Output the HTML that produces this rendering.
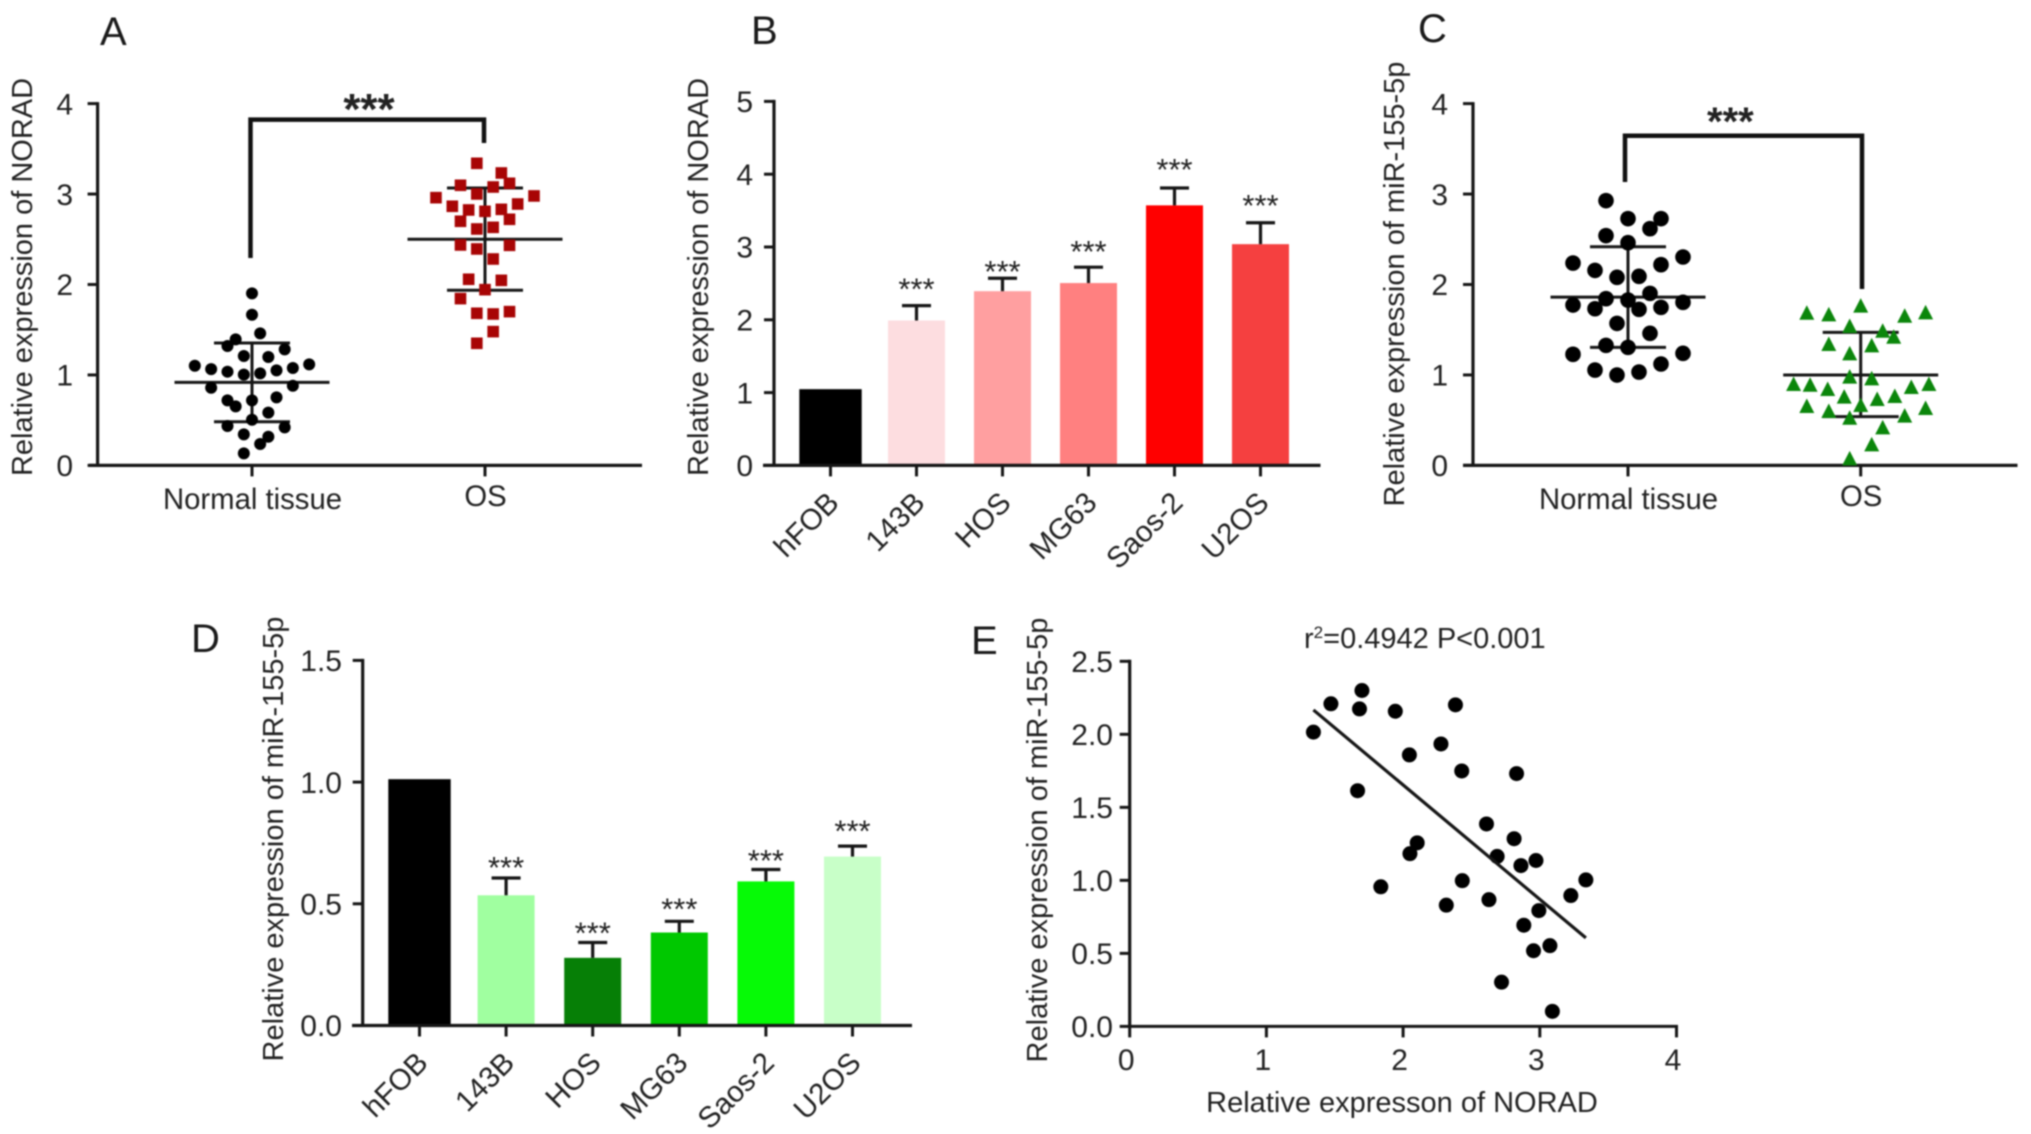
<!DOCTYPE html>
<html lang="en">
<head>
<meta charset="utf-8">
<title>NORAD and miR-155-5p expression</title>
<style>
html,body{margin:0;padding:0;background:#fff;}
svg{display:block;filter:blur(.7px);}
text{font-family:"Liberation Sans",sans-serif;fill:#222;}
.panel-letter{font-size:40px;fill:#1a1a1a;}
.axis-title{font-size:29px;text-anchor:middle;}
</style>
</head>
<body>
<svg id="figure" xmlns="http://www.w3.org/2000/svg" width="2031" height="1134" viewBox="0 0 2031 1134">
  <rect width="2031" height="1134" fill="#fff"/>

  <g id="panel-a">
    <text class="panel-letter" x="100" y="45">A</text>
    <text class="axis-title" transform="translate(32,277) rotate(-90)">Relative expression of NORAD</text>
    <path d="M250.5 258V119.6H484V143" fill="none" stroke="#111" stroke-width="4.5"/>
  </g>
  <g id="panel-b">
    <text class="panel-letter" x="751" y="44">B</text>
    <text class="axis-title" transform="translate(708,277) rotate(-90)">Relative expression of NORAD</text>
  </g>
  <g id="panel-c">
    <text class="panel-letter" x="1418" y="42">C</text>
    <text class="axis-title" transform="translate(1404,284) rotate(-90)">Relative expression of miR-155-5p</text>
    <path d="M1625 182V135.7H1862V289" fill="none" stroke="#111" stroke-width="4.5"/>
  </g>
  <g id="panel-d">
    <text class="panel-letter" x="191" y="652">D</text>
    <text class="axis-title" transform="translate(283,839) rotate(-90)">Relative expression of miR-155-5p</text>
  </g>
  <g id="panel-e">
    <text class="panel-letter" x="971" y="654">E</text>
    <text class="axis-title" transform="translate(1047,840) rotate(-90)">Relative expression of miR-155-5p</text>
    <text class="axis-title" x="1402" y="1112">Relative expresson of NORAD</text>
    <text x="1304" y="648" font-size="29">r<tspan font-size="17" dy="-10">2</tspan><tspan dy="10">=0.4942 P&lt;0.001</tspan></text>
  </g>
</svg>

<script>
// Panel A values
const aCategories = ['Normal tissue', 'OS'];
const aYTicks = [0, 1, 2, 3, 4];
const aNormalValues = [1.902,1.666,1.460,1.393,1.320,1.283,1.209,1.198,1.102,1.117,1.065,1.036,1.003,1.018,1.051,1.077,0.859,0.881,0.719,0.653,0.719,0.752,0.583,0.505,0.435,0.421,0.343,0.317,0.236,0.133];
const aNormalColumns = [0,0,1,-2,-3,4,-1,2,-7,7,-5,-3,-1,1,3,5,-5,5,-3,-2,0,3,2,0,-3,4,-1,2,1,-1];
const aNormalSummary = [0.918, 1.353, 0.483];
const aOsValues = [3.340,3.233,3.119,3.097,3.078,3.001,2.960,2.979,2.865,2.890,2.824,2.809,2.831,2.699,2.721,2.614,2.632,2.437,2.393,2.433,2.282,2.058,2.046,1.943,1.844,1.682,1.674,1.700,1.479,1.350];
const aOsColumns = [-1,2,3,-3,1,-1,-6,6,-4,4,-2,0,2,-3,3,-1,1,-3,-1,3,1,-2,2,0,-3,-1,1,3,1,-1];
const aOsSummary = [2.500, 3.067, 1.936];

// Panel B values
const bCategories = ['hFOB', '143B', 'HOS', 'MG63', 'Saos-2', 'U2OS'];
const bYTicks = [0, 1, 2, 3, 4, 5];
const bValues = [1.047, 1.99, 2.393, 2.505, 3.572, 3.039];
const bErrorTops = [null, 2.195, 2.571, 2.723, 3.81, 3.333];
const bStarGaps = [null, 0.285, 0.15, 0.27, 0.31, 0.29];
const bColors = ['#000000', '#fddde0', '#ff9fa0', '#ff8080', '#ff0000', '#f54040'];

// Panel C values
const cCategories = ['Normal tissue', 'OS'];
const cYTicks = [0, 1, 2, 3, 4];
const cNormalValues = [2.927,2.728,2.728,2.617,2.540,2.462,2.237,2.304,2.219,2.156,2.079,2.090,1.902,1.843,1.828,1.773,1.732,1.725,1.747,1.803,1.570,1.460,1.327,1.305,1.228,1.239,1.054,0.999,1.032,1.121];
const cNormalColumns = [-2,0,3,2,-2,0,-5,5,3,-3,-1,1,2,-2,0,-5,-3,1,3,5,-1,2,-2,0,-5,5,-3,-1,1,3];
const cNormalSummary = [1.861, 2.418, 1.305];
const cOsValues = [1.766,1.688,1.670,1.655,1.692,1.541,1.489,1.423,1.342,1.327,1.239,0.981,0.962,0.900,0.892,0.844,0.867,0.900,0.760,0.734,0.767,0.668,0.657,0.601,0.634,0.527,0.550,0.421,0.233,0.078];
const cOsColumns = [0,-4.9,-2.9,4,5.9,-1,2,3,-2.9,1,-1,-1,1,-6.1,-4.6,-3,4.6,6.2,-1.5,1.5,3.1,0,-4.9,-2.9,5.9,-1,4,2,1,-1];
const cOsSummary = [1.0, 1.471, 0.539];

// Panel D values
const dCategories = ['hFOB', '143B', 'HOS', 'MG63', 'Saos-2', 'U2OS'];
const dYTicks = [0, 0.5, 1, 1.5];
const dValues = [1.012, 0.535, 0.278, 0.382, 0.592, 0.694];
const dErrorTops = [null, 0.606, 0.341, 0.428, 0.641, 0.737];
const dStarGaps = [null, 0.06, 0.056, 0.067, 0.054, 0.078];
const dColors = ['#000000', '#a0ffa0', '#067f06', '#00c800', '#06fa06', '#c8ffc8'];

// Panel E values
const eXTicks = [0, 1, 2, 3, 4];
const eYTicks = [0, 0.5, 1, 1.5, 2, 2.5];
const eNorad = [1.344,1.472,1.699,1.681,1.943,2.383,2.277,2.046,2.429,2.830,1.667,2.610,2.812,2.103,2.050,2.688,2.862,2.972,2.433,1.837,3.337,3.227,2.628,2.316,2.993,2.883,2.954,3.074,2.720,3.092];
const eMir = [2.015,2.209,2.300,2.174,2.158,2.202,1.934,1.859,1.749,1.731,1.614,1.386,1.285,1.257,1.183,1.164,1.101,1.136,0.998,0.956,1.003,0.896,0.868,0.830,0.793,0.693,0.518,0.553,0.303,0.103];
const eFitX = [1.344, 3.337];
const eFitY = [2.167, 0.606];

const SVG_NS = 'http://www.w3.org/2000/svg';
const INK = '#161616';
const TICK_FONT = 30;

function make(parent, tag, attrs, name) {
  const el = document.createElementNS(SVG_NS, tag);
  for (const k in attrs) el.setAttribute(k, attrs[k]);
  
  
  parent.appendChild(el);
  return el;
}
function line(parent, x1, y1, x2, y2, width, name) {
  return make(parent, 'line', {x1, y1, x2, y2, stroke: INK, 'stroke-width': width}, name);
}
function label(parent, str, attrs, name) {
  const el = make(parent, 'text', attrs, name);
  el.textContent = str;
  return el;
}
function linearY(base, top, maxVal) {
  return v => base - (base - top) * v / maxVal;
}

function drawYAxis(g, axisX, y, ticks, format, labelRight, size, topVal, key) {
  line(g, axisX, y(0) + 1.5, axisX, y(topVal) - 1.5, 3.2, key + '-y-axis-line');
  ticks.forEach(t => {
    line(g, axisX - 10, y(t), axisX, y(t), 3, key + '-y-tick');
    label(g, format(t), {x: labelRight, y: y(t) + size * 0.358, 'font-size': size, 'text-anchor': 'end'}, key + '-y-tick-label');
  });
}

function drawSwarmGroup(g, centerX, y, values, columns, summary, step, shape, key) {
  const [mean, upper, lower] = summary;
  line(g, centerX, y(upper), centerX, y(lower), 3, key + '-error-bar');
  line(g, centerX - 38, y(upper), centerX + 38, y(upper), 3, key + '-upper-cap');
  line(g, centerX - 38, y(lower), centerX + 38, y(lower), 3, key + '-lower-cap');
  line(g, centerX - 77.5, y(mean), centerX + 77.5, y(mean), 3, key + '-mean-line');
  values.forEach((v, i) => {
    const px = centerX + columns[i] * step;
    const py = y(v);
    if (shape === 'square') {
      make(g, 'rect', {x: px - 5.8, y: py - 5.8, width: 11.6, height: 11.6, fill: '#a80505'}, key + '-point');
    } else if (shape === 'triangle') {
      make(g, 'polygon', {points: `${px},${py - 7.5} ${px + 7.5},${py + 7} ${px - 7.5},${py + 7}`, fill: '#0b860b'}, key + '-point');
    } else {
      make(g, 'circle', {cx: px, cy: py, r: shape === 'large-circle' ? 7.8 : 6, fill: '#000'}, key + '-point');
    }
  });
}

function drawSwarmPanel(cfg) {
  const g = document.getElementById(cfg.id);
  const y = linearY(cfg.base, cfg.top, cfg.maxVal);
  line(g, cfg.axisLeft, cfg.base, cfg.axisRight, cfg.base, 3.2, cfg.key + '-x-axis-line');
  drawYAxis(g, cfg.axisX, y, cfg.yTicks, t => String(t), cfg.labelRight, TICK_FONT, cfg.maxVal, cfg.key);
  cfg.categories.forEach((c, i) => {
    line(g, cfg.centers[i], cfg.base, cfg.centers[i], cfg.base + 11, 3, cfg.key + '-x-tick');
    label(g, c, {x: cfg.centers[i] + 0.5, y: i === 0 ? 509 : 506, 'font-size': 29.3, 'text-anchor': 'middle'}, cfg.key + '-x-tick-label');
  });
  drawSwarmGroup(g, cfg.centers[0], y, cfg.series[0].values, cfg.series[0].columns, cfg.series[0].summary, cfg.step, cfg.series[0].shape, cfg.key + '-normal');
  drawSwarmGroup(g, cfg.centers[1], y, cfg.series[1].values, cfg.series[1].columns, cfg.series[1].summary, cfg.step, cfg.series[1].shape, cfg.key + '-os');
  label(g, '***', {x: cfg.starX, y: cfg.starY + cfg.starSize * 0.575, 'font-size': cfg.starSize, 'font-weight': 'bold', 'text-anchor': 'middle'}, cfg.key + '-significance-stars');
}

function drawBarPanel(cfg) {
  const g = document.getElementById(cfg.id);
  const y = linearY(cfg.base, cfg.top, cfg.maxVal);
  const cx = i => cfg.firstCenter + i * cfg.spacing;
  cfg.categories.forEach((c, i) => {
    const w = i === 0 ? 62.4 : 57;
    make(g, 'rect', {x: cx(i) - w / 2, y: y(cfg.values[i]), width: w, height: cfg.base - y(cfg.values[i]), fill: cfg.colors[i]}, cfg.key + '-bar-' + c.toLowerCase());
    if (cfg.errorTops[i] !== null) {
      line(g, cx(i), y(cfg.values[i]), cx(i), y(cfg.errorTops[i]), 3.2, cfg.key + '-error-bar-' + c.toLowerCase());
      line(g, cx(i) - 14.5, y(cfg.errorTops[i]), cx(i) + 14.5, y(cfg.errorTops[i]), 3.2, cfg.key + '-error-cap-' + c.toLowerCase());
      label(g, '***', {x: cx(i), y: y(cfg.errorTops[i] + cfg.starGaps[i]) + 14.5, 'font-size': 31, 'text-anchor': 'middle'}, cfg.key + '-stars-' + c.toLowerCase());
    }
    line(g, cx(i), cfg.base, cx(i), cfg.base + 11, 3, cfg.key + '-x-tick');
    const ax = cx(i) + 10, ay = cfg.base + 39;
    label(g, c, {transform: `translate(${ax},${ay}) rotate(-45)`, 'font-size': 29.5, 'text-anchor': 'end'}, cfg.key + '-x-tick-label');
  });
  line(g, cfg.axisLeft, cfg.base, cfg.axisRight, cfg.base, 3.2, cfg.key + '-x-axis-line');
  drawYAxis(g, cfg.axisX, y, cfg.yTicks, cfg.format, cfg.labelRight, TICK_FONT, cfg.maxVal, cfg.key);
}

function drawCorrelationPanel() {
  const g = document.getElementById('panel-e');
  const base = 1026.4;
  const y = linearY(base, 661.3, 2.5);
  const x = v => 1129.7 + v * 136.7;
  line(g, x(0) - 1.5, base, x(4) + 1.5, base, 3, 'panel-e-x-axis-line');
  drawYAxis(g, x(0), y, eYTicks, t => t.toFixed(1), 1113, TICK_FONT, 2.5, 'panel-e');
  eXTicks.forEach(t => {
    line(g, x(t), base, x(t), base + 11, 3, 'panel-e-x-tick');
    label(g, String(t), {x: x(t) - 3.5, y: 1070, 'font-size': TICK_FONT, 'text-anchor': 'middle'}, 'panel-e-x-tick-label');
  });
  eNorad.forEach((v, i) => {
    make(g, 'circle', {cx: x(v), cy: y(eMir[i]), r: 7.5, fill: '#000'}, 'panel-e-point');
  });
  line(g, x(eFitX[0]), y(eFitY[0]), x(eFitX[1]), y(eFitY[1]), 3.2, 'panel-e-regression-line');
}

drawSwarmPanel({
  id: 'panel-a', key: 'panel-a', base: 465.4, top: 103.6, maxVal: 4, axisX: 97.6, axisLeft: 89, axisRight: 642,
  labelRight: 73, yTicks: aYTicks, categories: aCategories, centers: [252, 485], step: 8.17,
  series: [
    {values: aNormalValues, columns: aNormalColumns, summary: aNormalSummary, shape: 'circle'},
    {values: aOsValues, columns: aOsColumns, summary: aOsSummary, shape: 'square'}
  ],
  starX: 369, starY: 98.5, starSize: 44
});
drawBarPanel({
  id: 'panel-b', key: 'panel-b', base: 465.4, top: 101.4, maxVal: 5, axisX: 774, axisLeft: 763, axisRight: 1320.5,
  labelRight: 753, yTicks: bYTicks, format: t => String(t), categories: bCategories, values: bValues,
  errorTops: bErrorTops, starGaps: bStarGaps, colors: bColors, firstCenter: 830.5, spacing: 86
});
drawSwarmPanel({
  id: 'panel-c', key: 'panel-c', base: 465.4, top: 103.6, maxVal: 4, axisX: 1473, axisLeft: 1463, axisRight: 2017.5,
  labelRight: 1448, yTicks: cYTicks, categories: cCategories, centers: [1628, 1860.7], step: 11,
  series: [
    {values: cNormalValues, columns: cNormalColumns, summary: cNormalSummary, shape: 'large-circle'},
    {values: cOsValues, columns: cOsColumns, summary: cOsSummary, shape: 'triangle'}
  ],
  starX: 1730.4, starY: 112, starSize: 40
});
drawBarPanel({
  id: 'panel-d', key: 'panel-d', base: 1025.5, top: 660.4, maxVal: 1.5, axisX: 362.7, axisLeft: 352, axisRight: 912,
  labelRight: 342, yTicks: dYTicks, format: t => t.toFixed(1), categories: dCategories, values: dValues,
  errorTops: dErrorTops, starGaps: dStarGaps, colors: dColors, firstCenter: 419.5, spacing: 86.6
});
drawCorrelationPanel();
</script>
</body>
</html>
